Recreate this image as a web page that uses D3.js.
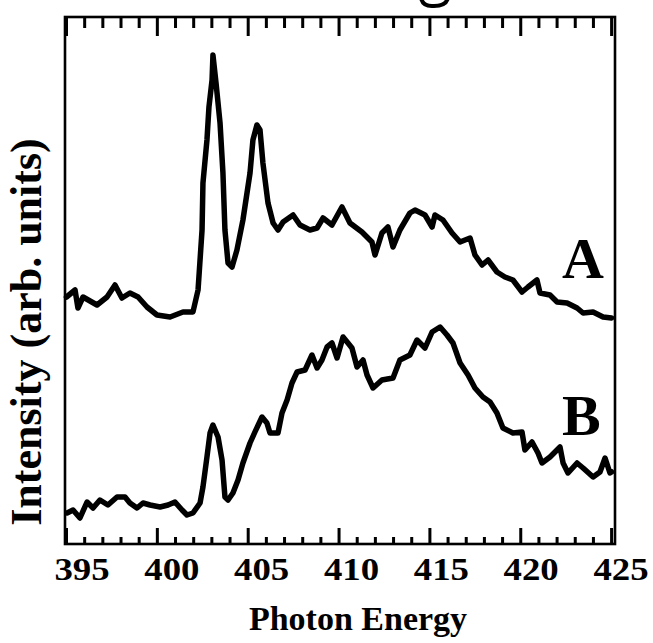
<!DOCTYPE html>
<html>
<head>
<meta charset="utf-8">
<script src="https://cdn.jsdelivr.net/npm/d3@7"></script>
<style>
  body { margin: 0; background: #fff; }
  svg { display: block; }
  text { font-family: "Liberation Serif", "Times New Roman", serif; font-weight: bold; fill: #000; }
</style>
</head>
<body>
<div id="chart"></div>
<script>
// photon energy (eV) and intensity (arb. units)
const energyA = [395.0, 395.47, 395.63, 395.91, 396.68, 397.23, 397.67, 398.05, 398.49, 398.94,
  399.43, 399.98, 400.70, 401.41, 401.96, 402.24, 402.46, 402.51, 402.73, 402.84,
  403.01, 403.06, 403.23, 403.45, 403.61, 403.72, 403.89, 404.11, 404.38, 404.71,
  405.10, 405.26, 405.48, 405.65, 405.81, 406.09, 406.37, 406.64, 406.92, 407.47,
  407.85, 408.40, 408.79, 409.12, 409.61, 410.16, 410.60, 411.26, 411.81, 411.98,
  412.36, 412.69, 412.97, 413.35, 413.90, 414.18, 414.73, 415.12, 415.28, 415.72,
  416.22, 416.66, 417.21, 417.48, 417.87, 418.20, 418.69, 419.13, 419.57, 420.07,
  420.40, 420.89, 421.06, 421.61, 422.00, 422.55, 423.10, 423.43, 423.98, 424.53, 425.0];
const intensityA = [247, 254, 236, 247, 239, 247, 259, 246, 251, 247,
  237, 229, 227, 232, 232, 254, 314, 361, 404, 437,
  464, 489, 461, 421, 371, 314, 281, 277, 294, 324,
  371, 404, 419, 414, 381, 341, 321, 314, 322, 329,
  319, 314, 316, 326, 319, 337, 321, 312, 302, 289,
  311, 317, 297, 314, 331, 334, 329, 317, 329, 324,
  311, 302, 306, 289, 279, 284, 272, 267, 264, 252,
  257, 264, 251, 249, 242, 241, 236, 231, 232, 227, 226];

const energyB = [395.03, 395.36, 395.74, 396.13, 396.46, 396.84, 397.28, 397.78, 398.22, 398.49,
  398.88, 399.21, 399.60, 400.15, 400.59, 400.97, 401.36, 401.63, 401.96, 402.35,
  402.51, 402.73, 402.90, 403.06, 403.34, 403.56, 403.72, 403.89, 404.16, 404.44,
  404.71, 405.10, 405.37, 405.76, 406.03, 406.20, 406.64, 406.86, 407.14, 407.41,
  407.69, 408.13, 408.51, 408.79, 409.06, 409.34, 409.61, 409.89, 410.22, 410.49,
  410.71, 410.99, 411.32, 411.54, 411.87, 412.36, 412.97, 413.35, 413.90, 414.29,
  414.73, 415.12, 415.56, 415.94, 416.27, 416.66, 417.10, 417.48, 417.92, 418.31,
  418.69, 419.02, 419.57, 420.07, 420.23, 420.62, 420.95, 421.17, 421.61, 422.16,
  422.33, 422.60, 423.10, 423.43, 423.98, 424.36, 424.64, 424.91, 425.0];
const intensityB = [31, 34, 26, 42, 36, 44, 39, 47, 47, 41,
  36, 41, 39, 37, 39, 42, 34, 29, 31, 41,
  57, 87, 111, 119, 107, 84, 47, 44, 51, 64,
  81, 101, 112, 127, 121, 111, 111, 131, 144, 161,
  172, 174, 189, 176, 184, 197, 201, 186, 207, 201,
  196, 177, 184, 169, 156, 164, 166, 184, 189, 204,
  196, 212, 217, 209, 201, 181, 169, 156, 147, 142,
  131, 116, 111, 112, 94, 102, 91, 81, 87, 97,
  81, 71, 81, 76, 67, 72, 86, 71, 72];

const majorTicks = [395, 400, 405, 410, 415, 420, 425];
const minorTicks = d3.range(395, 426).filter(d => d % 5 !== 0);
const curveLabels = ['A', 'B'];

const width = 653, height = 643;
const frame = {left: 65, right: 615, top: 17, bottom: 544};

const svg = d3.select('#chart').append('svg')
  .attr('width', width)
  .attr('height', height);

const x = d3.scaleLinear().domain([395, 425]).range([66.5, 611.6]);
const y = d3.scaleLinear().domain([0, 527]).range([frame.bottom, frame.top]);
// the printed tick numbers sit a little right of their ticks
const xLabel = d3.scaleLinear().domain([395, 425]).range([82, 621]);

// bottom loop of a letter from the heading that is cut off above
svg.append('path')
  .attr('d', 'M421,-2 Q423,7 434,6 Q446,6 448,-2')
  .attr('fill', 'none')
  .attr('stroke', '#000')
  .attr('stroke-width', 4);

// bottom tick labels (wide digits)
svg.append('g')
  .selectAll('text')
  .data(majorTicks)
  .join('text')
  .attr('transform', d => 'translate(' + xLabel(d) + ',580) scale(1.15,1)')
  .attr('text-anchor', 'middle')
  .style('font-size', '32px')
  .text(d3.format('d'));

// frame
svg.append('rect')
  .attr('x', frame.left).attr('y', frame.top)
  .attr('width', frame.right - frame.left)
  .attr('height', frame.bottom - frame.top)
  .attr('fill', 'none')
  .attr('stroke', '#000')
  .attr('stroke-width', 2.6);

// inward ticks on the top and bottom edges, one path per set
const tickSpecs = [
  {values: minorTicks, len: 7, edge: frame.bottom, dir: -1},
  {values: majorTicks, len: 16, edge: frame.bottom, dir: -1},
  {values: minorTicks, len: 11, edge: frame.top, dir: 1},
  {values: majorTicks, len: 19, edge: frame.top, dir: 1}
];
svg.selectAll('path.ticks')
  .data(tickSpecs)
  .join('path')
  .attr('class', 'ticks')
  .attr('d', s => s.values.map(d => 'M' + x(d) + ',' + s.edge + 'V' + (s.edge + s.dir * s.len)).join(''))
  .attr('fill', 'none')
  .attr('stroke', '#000')
  .attr('stroke-width', 3);

// spectra
const line = d3.line()
  .x(d => x(d[0]))
  .y(d => y(d[1]));

const series = [d3.zip(energyA, intensityA), d3.zip(energyB, intensityB)];
svg.selectAll('path.spectrum')
  .data(series)
  .join('path')
  .attr('class', 'spectrum')
  .attr('d', line)
  .attr('fill', 'none')
  .attr('stroke', '#000')
  .attr('stroke-width', 5.5)
  .attr('stroke-linejoin', 'round')
  .attr('stroke-linecap', 'round');

// curve labels
svg.selectAll('text.curve-label')
  .data(curveLabels)
  .join('text')
  .attr('class', 'curve-label')
  .attr('x', 562)
  .attr('y', (d, i) => i === 0 ? 278 : 435)
  .style('font-size', '58px')
  .text(d => d);

// axis titles
svg.append('text')
  .attr('x', 358).attr('y', 630)
  .attr('text-anchor', 'middle')
  .style('font-size', '34px')
  .text('Photon Energy');

svg.append('text')
  .attr('transform', 'translate(41,332) rotate(-90)')
  .attr('text-anchor', 'middle')
  .style('font-size', '44px')
  .text('Intensity (arb. units)');
</script>
</body>
</html>
